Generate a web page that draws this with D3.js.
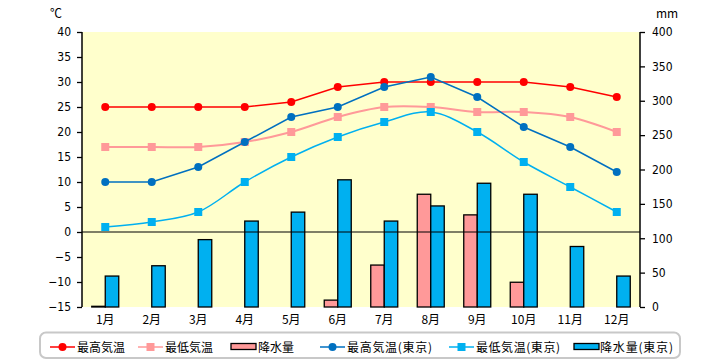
<!DOCTYPE html>
<html><head><meta charset="utf-8">
<script src="https://cdn.jsdelivr.net/npm/d3@7"></script>
<style>
body{margin:0;background:#fff;}
text{font-family:"Noto Sans CJK JP","Noto Sans",sans-serif;}
</style></head>
<body><svg id="c" width="720" height="360"></svg>
<script>
const months = ["1月","2月","3月","4月","5月","6月","7月","8月","9月","10月","11月","12月"];
const highTemp = [25,25,25,25,26,29,30,30,30,30,29,27];
const lowTemp = [17,17,17,18,20,23,25,25,24,24,23,20];
const precip = [1,0,0,0,0,10,61,164,134,36,0,0];
const highTempTokyo = [10,10,13,18,23,25,29,31,27,21,17,12];
const lowTempTokyo = [1,2,4,10,15,19,22,24,20,14,9,4];
const precipTokyo = [45,60,98,125,138,185,125,147,180,164,88,45];
const leftTicks = [-15,-10,-5,0,5,10,15,20,25,30,35,40];
const rightTicks = [0,50,100,150,200,250,300,350,400];
const legendLabels = ["最高気温","最低気温","降水量","最高気温(東京)","最低気温(東京)","降水量(東京)"];

const svg = d3.select("#c");
const L=82, R=640, T=32, B=307;
const x = d3.scaleBand().domain(months).range([L,R]);
const yL = d3.scaleLinear().domain([-15,40]).range([B,T]);
const yR = d3.scaleLinear().domain([0,400]).range([B,T]);
const cx = m => x(m)+x.bandwidth()/2;

svg.append("rect").attr("x",L).attr("y",T).attr("width",R-L).attr("height",B-T).attr("fill","#FFFFCC");

// bars
const inner = d3.scaleBand().domain(["a","b"]).range([-13.5,13.5]);
const gb = svg.append("g");
months.forEach((m,i)=>{
  if(precip[i]>0){
    gb.append("rect").attr("x",cx(m)+inner("a")).attr("y",yR(precip[i])).attr("width",inner.bandwidth()).attr("height",B-yR(precip[i]))
      .attr("fill","#FF9999").attr("stroke","#000").attr("stroke-width",1.3);
  }
  gb.append("rect").attr("x",cx(m)+inner("b")).attr("y",yR(precipTokyo[i])).attr("width",inner.bandwidth()).attr("height",B-yR(precipTokyo[i]))
    .attr("fill","#00B0F0").attr("stroke","#000").attr("stroke-width",1.3);
});

// zero line
svg.append("line").attr("x1",L).attr("x2",R).attr("y1",yL(0)).attr("y2",yL(0)).attr("stroke","#000").attr("stroke-width",1.2);

// axes
const axL = svg.append("g").attr("transform",`translate(${L},0)`).call(d3.axisLeft(yL).tickValues(leftTicks).tickSize(5).tickPadding(6).tickFormat(d=>d<0?"−"+(-d):d));
const axR = svg.append("g").attr("transform",`translate(${R},0)`).call(d3.axisRight(yR).tickValues(rightTicks).tickSize(5).tickPadding(7));
[axL,axR].forEach(a=>{
  a.select(".domain").attr("stroke","#000").attr("stroke-width",1.5).attr("d",`M0,${T}V${B}`);
  a.selectAll(".tick line").attr("stroke","#000").attr("stroke-width",1.3);
  a.selectAll("text").attr("font-size",12).attr("fill","#000").style("font-family","'Liberation Sans Narrow','DejaVu Sans Condensed',sans-serif");
});
const axB = svg.append("g").attr("transform",`translate(0,${B})`).call(d3.axisBottom(x).tickSize(0).tickPadding(8));
axB.select(".domain").remove();
axB.selectAll("text").attr("font-size",12).attr("fill","#000");

svg.append("text").attr("x",56).attr("y",18).attr("text-anchor","middle").attr("font-size",12).text("℃");
svg.append("text").attr("x",667).attr("y",18).attr("text-anchor","middle").attr("font-size",12).text("mm");

// lines
function series(data,color,width,curve,marker){
  const line = d3.line().x((d,i)=>cx(months[i])).y(d=>yL(d)).curve(curve);
  svg.append("path").datum(data).attr("d",line).attr("fill","none").attr("stroke",color).attr("stroke-width",width);
  const g = svg.append("g");
  data.forEach((d,i)=>{
    if(marker==="c") g.append("circle").attr("cx",cx(months[i])).attr("cy",yL(d)).attr("r",4).attr("fill",color);
    else g.append("rect").attr("x",cx(months[i])-4).attr("y",yL(d)-4).attr("width",8).attr("height",8).attr("fill",color);
  });
}
series(lowTemp,"#FF9999",2,d3.curveCatmullRom.alpha(0.5),"s");
series(highTemp,"#FF0000",1.5,d3.curveLinear,"c");
series(lowTempTokyo,"#00B0F0",1.5,d3.curveCatmullRom.alpha(0.5),"s");
series(highTempTokyo,"#0070C0",1.5,d3.curveLinear,"c");

// legend
svg.append("rect").attr("x",40).attr("y",332.5).attr("width",640).attr("height",25.5).attr("rx",6).attr("fill","#fff").attr("stroke","#C8C8C8").attr("stroke-width",2);
const ly = 347;
const items = [
  {t:"line",c:"#FF0000",m:"c",x0:50,tx:77},
  {t:"line",c:"#FF9999",m:"s",x0:138,tx:165},
  {t:"bar",c:"#FF9999",x0:231,tx:258},
  {t:"line",c:"#0070C0",m:"c",x0:320,tx:347,w:85},
  {t:"line",c:"#00B0F0",m:"s",x0:449,tx:476,w:84},
  {t:"bar",c:"#00B0F0",x0:574,tx:600,w:73}
];
items.forEach((it,i)=>{
  if(it.t==="line"){
    svg.append("line").attr("x1",it.x0).attr("x2",it.x0+25).attr("y1",ly).attr("y2",ly).attr("stroke",it.c).attr("stroke-width",1.5);
    if(it.m==="c") svg.append("circle").attr("cx",it.x0+12.5).attr("cy",ly).attr("r",4).attr("fill",it.c);
    else svg.append("rect").attr("x",it.x0+8.5).attr("y",ly-4).attr("width",8).attr("height",8).attr("fill",it.c);
  } else {
    svg.append("rect").attr("x",it.x0).attr("y",ly-3.5).attr("width",25).attr("height",6).attr("fill",it.c).attr("stroke","#000").attr("stroke-width",1.3);
  }
  const t = svg.append("text").attr("x",it.tx).attr("y",ly+4.5).attr("font-size",12).text(legendLabels[i]);
  if(it.w) t.attr("textLength",it.w).attr("lengthAdjust","spacing");
});
</script></body></html>
